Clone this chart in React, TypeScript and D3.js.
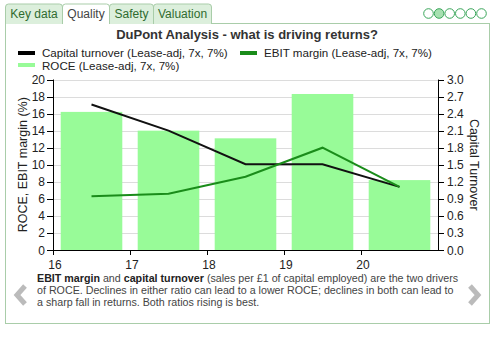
import React from "react";
import * as d3 from "d3";

const periods = [16.5, 17.5, 18.5, 19.5, 20.5];
const roce = [16.2, 14.0, 13.1, 18.3, 8.2];
const ebitMargin = [6.3, 6.6, 8.6, 12.0, 7.4];
const capitalTurnover = [2.56, 2.1, 1.51, 1.51, 1.11];
const xTicks = [16, 17, 18, 19, 20];
const leftTicks = [0, 2, 4, 6, 8, 10, 12, 14, 16, 18, 20];
const rightTicks = [0, 0.3, 0.6, 0.9, 1.2, 1.5, 1.8, 2.1, 2.4, 2.7, 3.0];
const tabs = ["Key data", "Quality", "Safety", "Valuation"];
const activeTab = 1;
const pageDots = 6;
const activeDot = 1;

const FONT = "'Liberation Sans', Arial, sans-serif";

export default function App() {
  const L = 53, R = 438, T = 79.5, B = 250;
  const x = d3.scaleLinear().domain([16, 21]).range([L, R]);
  const yL = d3.scaleLinear().domain([0, 20]).range([B, T]);
  const yR = d3.scaleLinear().domain([0, 3]).range([B, T]);
  const bw = (x(17) - x(16)) * 0.8;

  const lineBlack = d3.line<number>().x((_, i) => x(periods[i])).y((d) => yR(d));
  const lineGreen = d3.line<number>().x((_, i) => x(periods[i])).y((d) => yL(d));

  const tabX = [5, 62, 109, 153, 211];

  return (
    <div style={{ position: "absolute", left: 0, top: 0 }}>
      <svg width={503} height={337} style={{ display: "block", fontFamily: FONT }}>
        <rect x={0} y={0} width={503} height={337} fill="#fff" />
        {/* panel */}
        <rect x={5.5} y={23.5} width={484} height={300} fill="#fff" stroke="#a9cda9" />
        {/* tabs */}
        {tabs.map((t, i) => {
          const x0 = tabX[i] + 0.5, x1 = tabX[i + 1] + 0.5;
          const active = i === activeTab;
          const path = `M${x0},24 L${x0},7 Q${x0},4 ${x0 + 3},4 L${x1 - 3},4 Q${x1},4 ${x1},7 L${x1},24`;
          return (
            <g key={t}>
              <path d={path} fill={active ? "#fff" : "#dcefdc"} stroke="#a9cda9" />
              {active && <line x1={x0 + 0.5} x2={x1 - 0.5} y1={23.5} y2={23.5} stroke="#fff" strokeWidth={2} />}
              <text x={(x0 + x1) / 2} y={18} textAnchor="middle" fontSize={12} fill={active ? "#444" : "#2f6b2f"}>{t}</text>
            </g>
          );
        })}
        {/* page dots */}
        {d3.range(pageDots).map((i) => (
          <circle key={i} cx={428.5 + i * 10.6} cy={13.5} r={4.8} fill={i === activeDot ? "#a6e0b0" : "#fff"} stroke="#3aa65a" strokeWidth={1} />
        ))}
        {/* title */}
        <text x={247} y={39} textAnchor="middle" fontSize={13} fontWeight="bold" fill="#333">DuPont Analysis - what is driving returns?</text>
        {/* legend */}
        <rect x={18} y={51} width={17} height={4} fill="#000" />
        <text x={42} y={57} fontSize={11.6} fill="#222">Capital turnover (Lease-adj, 7x, 7%)</text>
        <rect x={240} y={51} width={17} height={4} fill="#1a8c1a" />
        <text x={264} y={57} fontSize={11.6} fill="#222">EBIT margin (Lease-adj, 7x, 7%)</text>
        <rect x={18} y={63} width={17} height={4} fill="#98fb98" />
        <text x={42} y={69.5} fontSize={11.6} fill="#222">ROCE (Lease-adj, 7x, 7%)</text>
        {/* gridlines */}
        {leftTicks.map((t) => (
          <line key={t} x1={L} x2={R} y1={Math.round(yL(t)) + 0.5} y2={Math.round(yL(t)) + 0.5} stroke="#dcdcdc" />
        ))}
        {/* bars */}
        {roce.map((v, i) => (
          <rect key={i} x={x(periods[i]) - bw / 2} y={yL(v)} width={bw} height={B - yL(v)} fill="#98fb98" />
        ))}
        {/* lines */}
        <path d={lineBlack(capitalTurnover) || ""} fill="none" stroke="#111" strokeWidth={2} />
        <path d={lineGreen(ebitMargin) || ""} fill="none" stroke="#1a8c1a" strokeWidth={2} />
        {/* left axis */}
        <line x1={L + 0.5} x2={L + 0.5} y1={T} y2={B} stroke="#000" />
        {leftTicks.map((t) => (
          <g key={t}>
            <line x1={L - 6} x2={L} y1={Math.round(yL(t)) + 0.5} y2={Math.round(yL(t)) + 0.5} stroke="#000" />
            <text x={45} y={yL(t) + 4.5} textAnchor="end" fontSize={12} fill="#222">{t}</text>
          </g>
        ))}
        {/* right axis */}
        <line x1={R + 0.5} x2={R + 0.5} y1={T} y2={B} stroke="#000" />
        {rightTicks.map((t) => (
          <g key={t}>
            <line x1={R} x2={R + 6} y1={Math.round(yR(t)) + 0.5} y2={Math.round(yR(t)) + 0.5} stroke="#000" />
            <text x={447} y={yR(t) + 4.5} fontSize={12} fill="#222">{t.toFixed(1)}</text>
          </g>
        ))}
        {/* x axis */}
        <line x1={L} x2={R} y1={B + 0.5} y2={B + 0.5} stroke="#000" />
        {xTicks.map((t) => (
          <g key={t}>
            <line x1={Math.round(x(t)) + 0.5} x2={Math.round(x(t)) + 0.5} y1={B} y2={B + 5} stroke="#000" />
            <text x={x(t) + 2} y={269} textAnchor="middle" fontSize={12} fill="#222">{t}</text>
          </g>
        ))}
        {/* axis titles */}
        <text transform={`translate(27,${(T + B) / 2}) rotate(-90)`} textAnchor="middle" fontSize={12.5} fill="#222">ROCE, EBIT margin (%)</text>
        <text transform={`translate(470,${(T + B) / 2}) rotate(90)`} textAnchor="middle" fontSize={12.5} fill="#222">Capital Turnover</text>
        {/* footer */}
        <text fontSize={10.7} fill="#444">
          <tspan x={37} y={282}><tspan fontWeight="bold" fill="#222">EBIT margin</tspan> and <tspan fontWeight="bold" fill="#222">capital turnover</tspan> (sales per £1 of capital employed) are the two drivers</tspan>
          <tspan x={37} y={294}>of ROCE. Declines in either ratio can lead to a lower ROCE; declines in both can lead to</tspan>
          <tspan x={37} y={306}>a sharp fall in returns. Both ratios rising is best.</tspan>
        </text>
        {/* arrows */}
        <path d="M25,286 L17,295 L25,304" fill="none" stroke="#bbb" strokeWidth={5} strokeLinejoin="miter" />
        <path d="M470,286 L478,295 L470,304" fill="none" stroke="#bbb" strokeWidth={5} strokeLinejoin="miter" />
      </svg>
    </div>
  );
}
